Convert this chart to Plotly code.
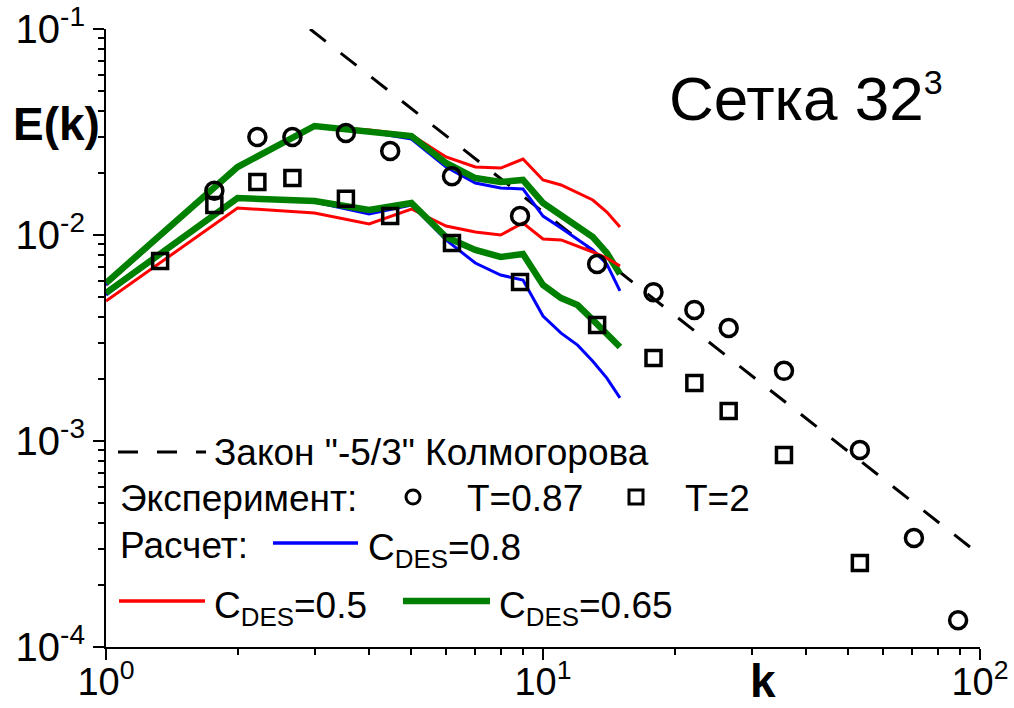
import plotly.graph_objects as go

# ---------------- data ----------------
k_calc = [1, 2, 3, 4, 5, 6, 7, 8, 9, 10, 11, 12, 13, 14, 15]

# T = 0.87 group (upper)
E_c08_t1 = [0.00572, 0.02114, 0.03344, 0.03162, 0.02924, 0.02138, 0.01788, 0.01691, 0.01672, 0.01236, 0.01081, 0.00956, 0.00846, 0.00723, 0.00535]
E_c05_t1 = [0.00572, 0.02114, 0.03382, 0.03233, 0.03057, 0.02391, 0.02138, 0.02114, 0.02338, 0.01849, 0.01749, 0.01600, 0.01479, 0.01293, 0.01093]
E_c065_t1 = [0.00585, 0.02138, 0.03382, 0.03197, 0.03023, 0.02236, 0.01890, 0.01808, 0.01849, 0.01430, 0.01250, 0.01106, 0.00978, 0.00818, 0.00647]

# T = 2 group (lower)
E_c08_t2 = [0.00511, 0.01529, 0.01446, 0.01264, 0.01398, 0.00946, 0.00731, 0.00639, 0.00605, 0.00404, 0.00334, 0.00292, 0.00244, 0.00202, 0.00162]
E_c05_t2 = [0.00478, 0.01352, 0.01279, 0.01131, 0.01337, 0.01106, 0.01034, 0.01000, 0.01144, 0.00956, 0.00946, 0.00885, 0.00827, 0.00773, 0.00707]
E_c065_t2 = [0.00523, 0.01512, 0.01462, 0.01322, 0.01430, 0.00978, 0.00846, 0.00782, 0.00809, 0.00572, 0.00494, 0.00457, 0.00387, 0.00334, 0.00286]

# experiment
k_exp1 = [1.77, 2.22, 2.67, 3.54, 4.47, 6.19, 8.86, 13.3, 17.9, 22.2, 26.6, 35.6, 53.1, 70.6, 89.1]
E_exp1 = [0.0164, 0.0299, 0.0299, 0.0313, 0.0256, 0.0193, 0.01236, 0.00723, 0.00528, 0.00433, 0.00354, 0.00219, 0.000904, 0.000338, 0.000135]
k_exp2 = [1.33, 1.77, 2.22, 2.67, 3.54, 4.47, 6.19, 8.86, 13.3, 17.9, 22.2, 26.6, 35.6, 53.1]
E_exp2 = [0.00748, 0.0140, 0.0181, 0.0189, 0.0150, 0.01236, 0.00914, 0.00591, 0.00366, 0.00253, 0.00191, 0.00140, 0.000855, 0.000256]

# Kolmogorov -5/3 line (end points)
k_kol = [2.93, 100]
E_kol = [0.1, 0.00028]

x_tickvals = [1, 10, 100]
x_ticktext = ["10<sup>0</sup>", "10<sup>1</sup>", "10<sup>2</sup>"]
y_tickvals = [1e-4, 1e-3, 1e-2, 1e-1]
y_ticktext = ["10<sup>-4</sup>", "10<sup>-3</sup>", "10<sup>-2</sup>", "10<sup>-1</sup>"]
x_minor = [2, 3, 4, 5, 6, 7, 8, 9, 20, 30, 40, 50, 60, 70, 80, 90]
y_minor = [2e-4, 3e-4, 4e-4, 5e-4, 6e-4, 7e-4, 8e-4, 9e-4,
           2e-3, 3e-3, 4e-3, 5e-3, 6e-3, 7e-3, 8e-3, 9e-3,
           2e-2, 3e-2, 4e-2, 5e-2, 6e-2, 7e-2, 8e-2, 9e-2]

# ---------------- layout geometry ----------------
W, H = 1014, 708
L, R, T, B = 106, 34, 29, 61
PW, PH = W - L - R, H - T - B


def px(x):
    return (x - L) / PW


def py(y):
    return 1 - (y - T) / PH


FONT = "Liberation Sans, Arial, sans-serif"
BLUE, RED, GREEN = "#0000ff", "#ff0000", "#008000"

fig = go.Figure()

fig.add_trace(go.Scatter(x=k_kol, y=E_kol, mode="lines",
                         line=dict(color="black", width=3, dash="20px,19px")))
for yv, col, w in [(E_c05_t1, RED, 3), (E_c08_t1, BLUE, 3), (E_c065_t1, GREEN, 6.5),
                   (E_c05_t2, RED, 3), (E_c08_t2, BLUE, 3), (E_c065_t2, GREEN, 6.5)]:
    fig.add_trace(go.Scatter(x=k_calc, y=yv, mode="lines",
                             line=dict(color=col, width=w)))
fig.add_trace(go.Scatter(x=k_exp1, y=E_exp1, mode="markers",
                         marker=dict(symbol="circle-open", size=17, color="black",
                                     line=dict(width=3.5, color="black"))))
fig.add_trace(go.Scatter(x=k_exp2, y=E_exp2, mode="markers",
                         marker=dict(symbol="square-open", size=15, color="black",
                                     line=dict(width=3.5, color="black"))))

axis_common = dict(showgrid=False, zeroline=False, showline=True, linecolor="black",
                   linewidth=2, ticks="outside", ticklen=11, tickwidth=2, tickcolor="black",
                   mirror=False, automargin=False)
fig.update_xaxes(type="log", range=[0, 2], tickmode="array", tickvals=x_tickvals,
                 ticktext=x_ticktext, ticklabelstandoff=-11,
                 tickfont=dict(family=FONT, size=38, color="black"),
                 minor=dict(tickmode="array", tickvals=x_minor, ticks="outside",
                            ticklen=6, tickwidth=1.5, tickcolor="black", showgrid=False),
                 **axis_common)
fig.update_yaxes(type="log", range=[-4, -1], tickmode="array", tickvals=y_tickvals,
                 ticktext=y_ticktext,
                 tickfont=dict(family=FONT, size=40, color="black"),
                 minor=dict(tickmode="array", tickvals=y_minor, ticks="outside",
                            ticklen=6, tickwidth=1.5, tickcolor="black", showgrid=False),
                 **axis_common)

ann = []
shapes = []


def label(x, y, s, size, anchor="center"):
    ann.append(dict(xref="paper", yref="paper", x=px(x), y=py(y), text=s,
                    showarrow=False, xanchor=anchor, yanchor="middle",
                    font=dict(family=FONT, size=size, color="black")))


label(56, 124, "<b>E(k)</b>", 46)
label(763, 681, "<b>k</b>", 46)
label(806, 98, "Сетка 32<sup><span style='font-size:34px'>3</span></sup>", 62)

LS = 37


def txt(x, y, s, size=LS):
    label(x, y, s, size, anchor="left")


def seg(x0, x1, y, color, width, dash="solid"):
    shapes.append(dict(type="line", xref="paper", yref="paper", x0=px(x0), x1=px(x1),
                       y0=py(y), y1=py(y), line=dict(color=color, width=width, dash=dash)))


# legend row 1
seg(118, 206, 452, "black", 3, "20px,19px")
txt(212, 452, 'Закон "-5/3" Колмогорова')
# legend row 2
txt(118, 498, "Эксперимент:")
shapes.append(dict(type="circle", xref="paper", yref="paper", x0=px(406), x1=px(420),
                   y0=py(490), y1=py(504), line=dict(color="black", width=3)))
txt(465, 498, "T=0.87")
shapes.append(dict(type="rect", xref="paper", yref="paper", x0=px(629), x1=px(643),
                   y0=py(490), y1=py(504), line=dict(color="black", width=3)))
txt(683, 498, "T=2")
# legend row 3
txt(118, 545, "Расчет:")
seg(273, 358, 543, BLUE, 3.5)
txt(366, 550, "C<sub>DES</sub>=0.8")
# legend row 4
seg(119, 205, 601, RED, 3.5)
txt(212, 608, "C<sub>DES</sub>=0.5")
seg(403, 490, 601, GREEN, 6.5)
txt(497, 608, "C<sub>DES</sub>=0.65")

fig.update_layout(width=W, height=H, margin=dict(l=L, r=R, t=T, b=B),
                  plot_bgcolor="white", paper_bgcolor="white", showlegend=False,
                  annotations=ann, shapes=shapes,
                  font=dict(family=FONT, color="black"))

fig.write_html("out.html")
